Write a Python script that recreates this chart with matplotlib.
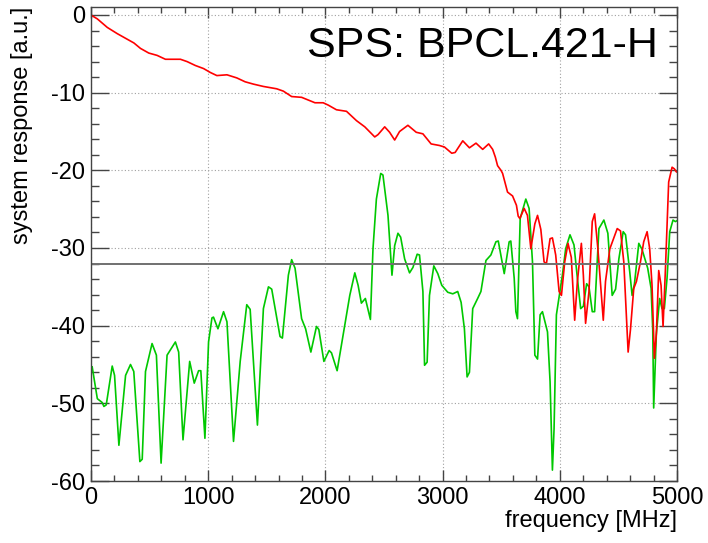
import matplotlib
matplotlib.use("Agg")
import matplotlib.pyplot as plt
from matplotlib.ticker import MultipleLocator

plt.rcParams['font.family'] = ['Liberation Sans', 'DejaVu Sans']
plt.rcParams['axes.unicode_minus'] = False

# frequency [MHz] / response [a.u.]
red_f = [10, 54, 139, 224, 366, 422, 493, 564, 635, 763, 820, 890, 961, 1018, 1074,
         1160, 1244, 1315, 1386, 1471, 1584, 1641, 1712, 1797, 1911, 1981, 2024, 2094,
         2180, 2265, 2336, 2421, 2449, 2506, 2548, 2591, 2633, 2704, 2775, 2832, 2902,
         2973, 3016, 3078, 3107, 3172, 3229, 3285, 3342, 3393, 3427, 3450, 3469, 3498,
         3512, 3554, 3597, 3630, 3645, 3659, 3696, 3724, 3753, 3787, 3810, 3838, 3866,
         3886, 3917, 3937, 3965, 3994, 4014, 4042, 4070, 4098, 4127, 4150, 4184, 4201,
         4220, 4249, 4277, 4297, 4325, 4371, 4390, 4427, 4490, 4518, 4546, 4583, 4603,
         4631, 4654, 4688, 4716, 4745, 4767, 4787, 4807, 4824, 4844, 4864, 4881, 4900,
         4929, 4958, 4977, 4995]
red_v = [-0.1, -0.5, -1.6, -2.4, -3.6, -4.3, -4.9, -5.2, -5.7, -5.7, -6.0, -6.5, -6.9,
         -7.4, -7.8, -7.7, -8.1, -8.6, -8.9, -9.2, -9.5, -9.8, -10.5, -10.6, -11.3, -11.3,
         -11.6, -12.2, -12.4, -13.6, -14.4, -15.7, -15.4, -14.4, -15.1, -16.1, -15.0,
         -14.2, -15.1, -15.3, -16.6, -16.8, -17.0, -17.8, -17.7, -16.2, -17.1, -16.5,
         -17.3, -16.6, -17.3, -18.3, -19.4, -20.0, -20.4, -22.8, -23.3, -24.5, -25.9,
         -26.2, -24.9, -25.8, -30.1, -26.9, -25.8, -27.6, -31.8, -32.0, -28.8, -28.7,
         -30.9, -35.6, -36.1, -31.8, -29.4, -31.2, -39.3, -34.3, -29.4, -33.5, -39.7,
         -35.6, -26.6, -25.6, -30.1, -39.3, -34.3, -30.1, -27.5, -27.8, -31.8, -43.4,
         -40.5, -35.2, -34.3, -31.8, -29.2, -27.9, -30.1, -34.8, -44.2, -41.0, -32.9,
         -34.8, -40.1, -33.2, -21.5, -19.6, -19.8, -20.2]

green_f = [10, 54, 96, 110, 130, 181, 201, 238, 295, 337, 365, 417, 437, 465, 521, 558,
           598, 649, 720, 748, 785, 842, 881, 918, 937, 972, 1003, 1032, 1045, 1083, 1131,
           1160, 1216, 1273, 1329, 1358, 1420, 1471, 1514, 1542, 1613, 1633, 1684, 1712,
           1741, 1797, 1831, 1876, 1924, 1944, 1987, 2032, 2052, 2100, 2166, 2208, 2251,
           2279, 2307, 2341, 2384, 2406, 2435, 2472, 2491, 2534, 2568, 2591, 2619, 2642,
           2676, 2718, 2747, 2783, 2803, 2832, 2846, 2868, 2888, 2925, 2959, 2993, 3044,
           3087, 3129, 3158, 3186, 3209, 3229, 3257, 3299, 3327, 3370, 3412, 3455, 3475,
           3526, 3568, 3582, 3611, 3625, 3639, 3662, 3710, 3738, 3767, 3787, 3810, 3832,
           3852, 3895, 3917, 3937, 3951, 3971, 4022, 4050, 4087, 4121, 4150, 4178, 4201,
           4229, 4249, 4277, 4297, 4334, 4376, 4410, 4447, 4476, 4504, 4541, 4561, 4597,
           4617, 4637, 4674, 4702, 4750, 4779, 4793, 4801, 4824, 4852, 4872, 4892, 4915,
           4938, 4966, 4986, 4998]
green_v = [-45.3, -49.4, -49.9, -50.4, -50.2, -45.2, -46.4, -55.4, -46.4, -45.0, -45.9,
           -57.5, -57.2, -45.9, -42.3, -43.8, -57.7, -43.8, -42.1, -43.4, -54.7, -44.6,
           -47.4, -45.8, -45.8, -54.5, -42.1, -39.0, -38.9, -40.4, -38.2, -39.5, -54.9,
           -44.6, -37.3, -37.9, -52.8, -37.8, -35.0, -35.3, -41.4, -41.6, -33.5, -31.5,
           -32.6, -39.1, -40.4, -43.4, -40.1, -40.5, -44.6, -43.2, -43.5, -45.8, -39.9,
           -36.1, -33.2, -34.8, -37.1, -36.5, -39.2, -30.1, -23.7, -20.4, -20.6, -25.8,
           -33.5, -29.7, -28.1, -28.6, -31.4, -33.2, -32.5, -30.8, -30.9, -35.6, -45.1,
           -44.7, -36.1, -32.3, -33.3, -34.8, -35.7, -35.9, -35.6, -37.0, -40.4, -46.6,
           -46.0, -37.8, -36.5, -35.6, -31.6, -30.9, -29.2, -29.1, -33.3, -29.2, -29.1,
           -33.9, -38.2, -39.1, -26.2, -23.7, -24.9, -31.8, -43.8, -44.3, -38.6, -38.2,
           -40.8, -47.2, -58.6, -53.3, -38.6, -33.5, -30.1, -28.3, -29.6, -33.9, -37.8,
           -37.5, -34.6, -35.0, -38.2, -38.2, -27.5, -26.4, -28.1, -36.1, -35.3, -31.4,
           -27.9, -28.3, -33.1, -36.1, -34.6, -29.4, -30.2, -32.6, -35.2, -40.5, -50.6,
           -41.0, -36.5, -37.8, -37.8, -33.9, -27.9, -26.4, -26.6, -26.5]

threshold = -32
title = "SPS: BPCL.421-H"

fig = plt.figure(figsize=(7.08, 5.43), dpi=100)
ax = fig.add_axes([91 / 708, 1 - 481 / 543, 586 / 708, 474 / 543])

ax.plot(green_f, green_v, color="#00c800", lw=1.2)
ax.plot(red_f, red_v, color="#ff0000", lw=1.2)
ax.axhline(threshold, color="#707070", lw=1.4)

ax.set_xlim(0, 5000)
ax.set_ylim(-60, 1.03)
ax.xaxis.set_major_locator(MultipleLocator(1000))
ax.xaxis.set_minor_locator(MultipleLocator(200))
ax.yaxis.set_major_locator(MultipleLocator(10))
ax.yaxis.set_minor_locator(MultipleLocator(2))
ax.grid(True, which="major", color="#a0a0a0", linestyle=(0, (1, 2)), lw=0.8)
ax.set_axisbelow(True)

for s in ax.spines.values():
    s.set_color("#444444")
    s.set_linewidth(1.0)
ax.tick_params(which="both", direction="in", top=True, right=True,
               color="#444444", labelsize=17, width=1.0)
ax.tick_params(axis="y", which="major", length=13, pad=4)
ax.tick_params(axis="y", which="minor", length=6)
ax.tick_params(axis="x", which="major", length=8, pad=4)
ax.tick_params(axis="x", which="minor", length=4.5)

ax.set_xlabel("frequency [MHz]", fontsize=17, loc="right")
ax.xaxis.set_label_coords(1.0, -0.062)
ax.set_ylabel("system response [a.u.]", fontsize=17, loc="top")
ax.yaxis.set_label_coords(-0.099, 1.0)

ax.text(0.9676, 0.895, title, transform=ax.transAxes, ha="right",
        va="baseline", fontsize=31)

fig.savefig("out.png", dpi=100)
